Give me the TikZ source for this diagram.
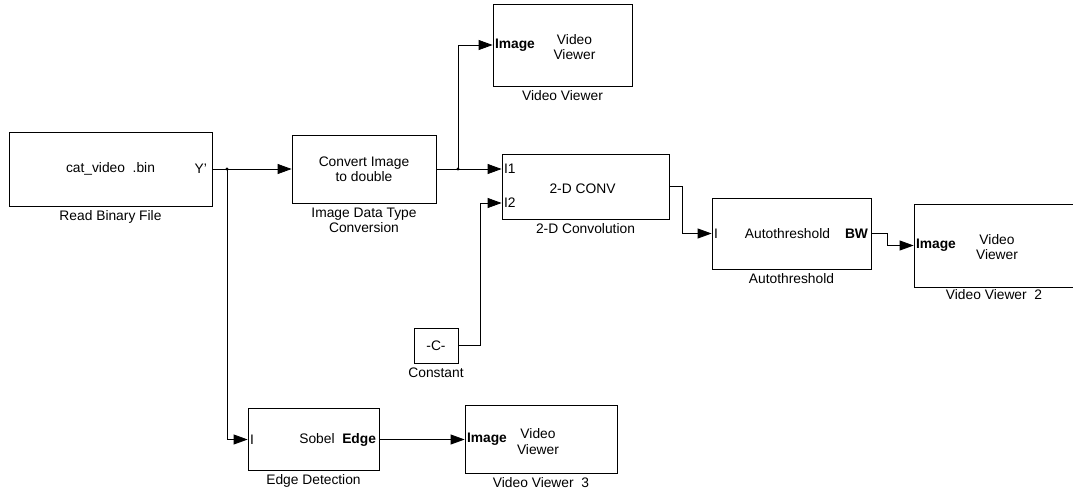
\documentclass[tikz,border=0pt]{standalone}
\usepackage{fontspec}
\setmainfont{Liberation Sans}[Ligatures=ResetAll]
\usetikzlibrary{positioning,arrows.meta}

\begin{document}
\begin{tikzpicture}[x=1pt,y=-1pt,line width=0.8pt,font=\fontsize{13.8}{15.5}\selectfont]
	\tikzstyle{blk}=[draw,rectangle,inner sep=0pt,align=center]
	\tikzstyle{lbl}=[inner sep=1pt,align=center]
	\tikzstyle{port}=[inner sep=2pt]
	\tikzstyle{bport}=[port,font=\fontsize{13.8}{15.5}\selectfont\bfseries]
	\tikzstyle{sig}=[-{Triangle[length=14pt,width=10pt]}]
	\useasboundingbox (0,0) rectangle (1073,491);

	\node[blk,minimum width=203pt,minimum height=74pt] (rbf) at (110.5,169) {cat\_video\ \ .bin};
	\node[blk,minimum width=144pt,minimum height=68pt] (cvt) at (364,169) {Convert Image\\to double};
	\node[blk,minimum width=139pt,minimum height=82pt] (vv1) at (562.5,45) {};
	\node[blk,minimum width=167pt,minimum height=65pt] (conv) at (585.5,186.5) {};
	\node[blk,minimum width=44pt,minimum height=35pt] (cst) at (436,345.5) {-C-};
	\node[blk,minimum width=159pt,minimum height=71pt] (ath) at (791.5,233.5) {};
	\node[blk,minimum width=164pt,minimum height=83pt] (vv2) at (996,245.5) {};
	\node[blk,minimum width=131pt,minimum height=62pt] (edge) at (313.5,439.5) {};
	\node[blk,minimum width=152pt,minimum height=68pt] (vv3) at (541,439.5) {};

	\node[port,anchor=east] (rbfy) at ([xshift=-3pt]rbf.east) {Y'};
	\node[bport,anchor=west] (vv1img) at (vv1.west) {Image};
	\node[lbl] (vv1txt) at ([xshift=12pt,yshift=-2pt]vv1.center) {Video\\Viewer};
	\node[port,anchor=west] (convi1) at ([yshift=17.5pt]conv.west) {I1};
	\node[port,anchor=west] (convi2) at ([yshift=-16.5pt]conv.west) {I2};
	\node[lbl] (convtxt) at ([xshift=-3pt,yshift=-2pt]conv.center) {2-D CONV};
	\node[port,anchor=west] (athi) at (ath.west) {I};
	\node[lbl] (athtxt) at ([xshift=-4pt]ath.center) {Autothreshold};
	\node[bport,anchor=east] (athbw) at ([xshift=-1pt]ath.east) {BW};
	\node[bport,anchor=west] (vv2img) at (vv2.west) {Image};
	\node[lbl] (vv2txt) at ([xshift=1pt,yshift=-1.5pt]vv2.center) {Video\\Viewer};
	\node[port,anchor=west] (edgei) at (edge.west) {I};
	\node[port,anchor=east] (edgetxt) at ([xshift=-1pt]edge.east) {Sobel\ \ \textbf{Edge}};
	\node[bport,anchor=west] (vv3img) at (vv3.west) {Image};
	\node[lbl] (vv3txt) at ([xshift=-3pt,yshift=-2pt]vv3.center) {Video\\Viewer};

	\node[lbl,below=3pt of rbf] (rbflbl) {Read Binary File};
	\node[lbl,below=3pt of cvt] (cvtlbl) {Image Data Type\\Conversion};
	\node[lbl,below=3pt of vv1] (vv1lbl) {Video Viewer};
	\node[lbl,below=3pt of conv] (convlbl) {2-D Convolution};
	\node[lbl,below=3pt of cst] (cstlbl) {Constant};
	\node[lbl,below=3pt of ath] (athlbl) {Autothreshold};
	\node[lbl,below=1pt of vv2,xshift=-2pt] (vv2lbl) {Video Viewer\ \ 2};
	\node[lbl,below=2pt of edge] (edgelbl) {Edge Detection};
	\node[lbl,below=2pt of vv3] (vv3lbl) {Video Viewer\ \ 3};

	\coordinate (br1) at (227,169);
	\coordinate (br2) at (458,169);
	\coordinate (in1) at ([yshift=17.5pt]conv.west);
	\coordinate (in2) at ([yshift=-16.5pt]conv.west);

	\foreach \from/\to in {rbf.east/cvt.west,cvt.east/in1,edge.east/vv3.west}
		\draw [sig] (\from) -- (\to);
	\draw[sig] (br1) |- (edge.west);
	\draw[sig] (br2) |- (vv1.west);
	\draw[sig] (cst.east) -- ++(22,0) |- (in2);
	\draw[sig] (conv.east) -- ++(13,0) |- (ath.west);
	\draw[sig] (ath.east) -- ++(16,0) |- (vv2.west);
	\fill (br1) circle (1.6pt);
	\fill (br2) circle (1.6pt);
\end{tikzpicture}
\end{document}
